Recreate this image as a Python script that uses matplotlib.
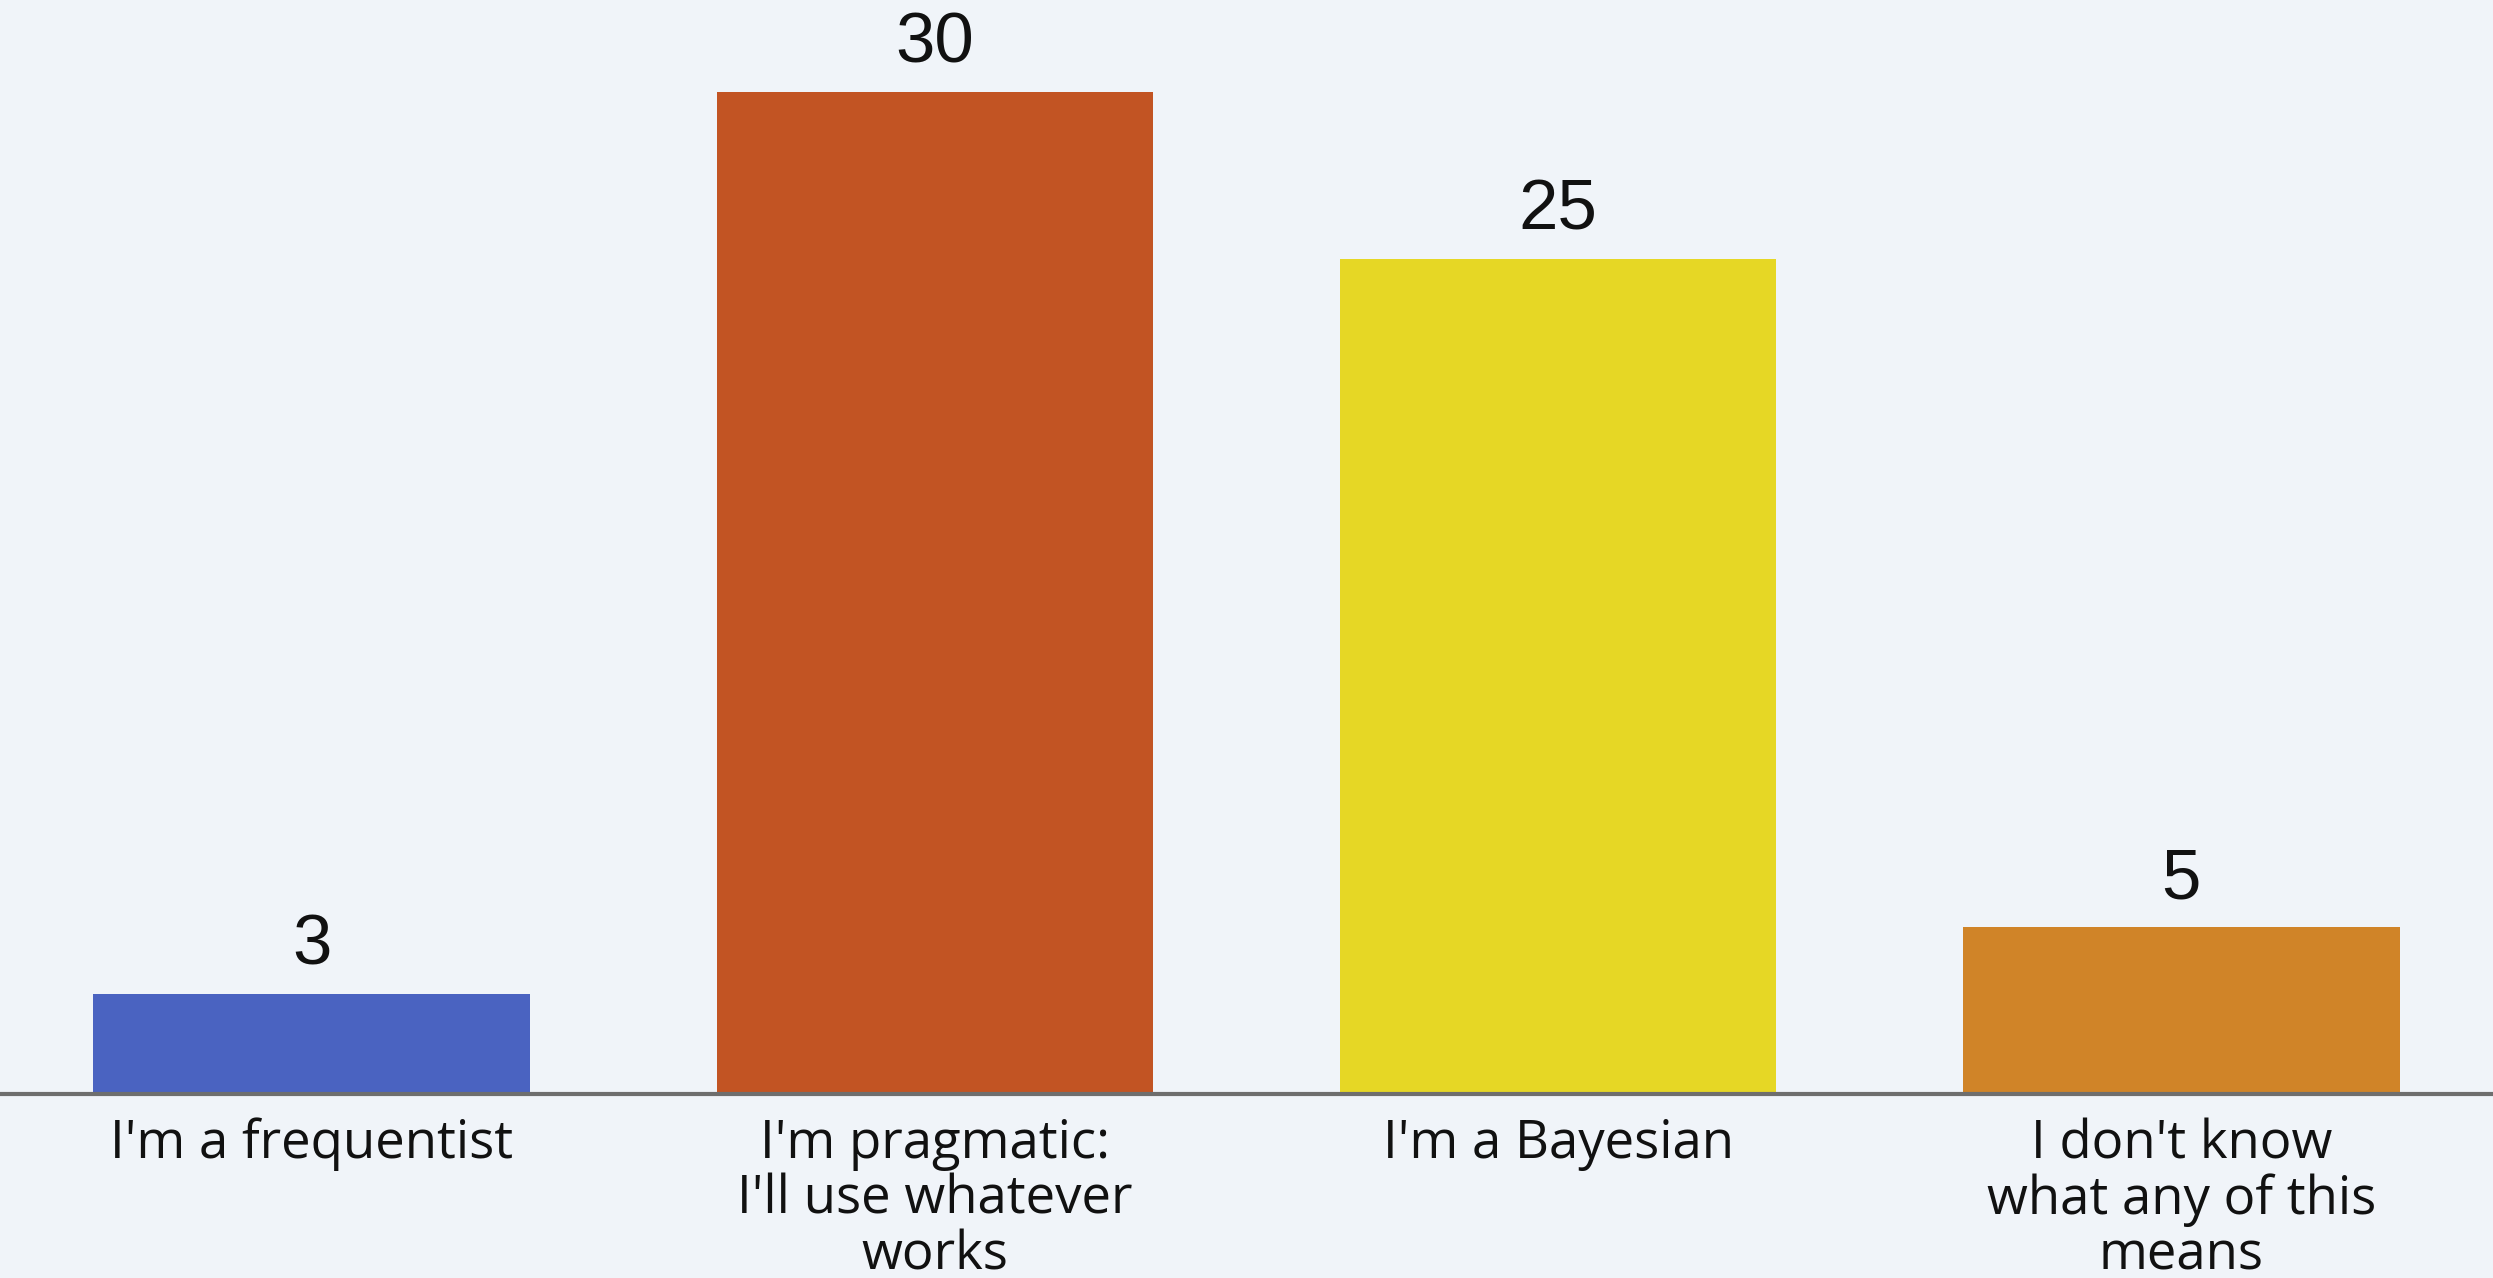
import numpy as np
import matplotlib.pyplot as plt

plt.rcParams['font.family'] = ['Open Sans', 'DejaVu Sans']

categories = ["I'm a frequentist", "I'm pragmatic:\nI'll use whatever\nworks",
              "I'm a Bayesian", "I don't know\nwhat any of this\nmeans"]
counts = [3, 30, 25, 5]
colors = ['#4A63C1', '#C25423', '#E6D725', '#D08428']
bg = '#F0F4F9'

fig = plt.figure(figsize=(24.93, 12.78), dpi=100, facecolor=bg)
ax = fig.add_axes([0, 0.144, 1, 0.856])
ax.set_facecolor(bg)

x = np.arange(len(counts))
bars = ax.bar(x, counts, width=0.7, color=colors, zorder=2)
ax.set_xlim(-0.5, 3.5)
ax.set_ylim(0, 32.75)

# value labels above bars
for b, v in zip(bars, counts):
    ax.annotate(str(v), (b.get_x() + b.get_width() / 2, v), xytext=(0, 10),
                textcoords='offset points', ha='center', va='bottom',
                fontsize=51, color='#111111', family=['Liberation Sans', 'DejaVu Sans'])

ax.set_xticks(x)
ax.set_xticklabels(categories, fontsize=38, color='#111111', linespacing=1.05, va='top')
ax.tick_params(axis='x', length=0, pad=17)
ax.set_yticks([])
for s in ['top', 'right', 'left']:
    ax.spines[s].set_visible(False)
ax.spines['bottom'].set_color('#6E6E6E')
ax.spines['bottom'].set_linewidth(3)
ax.spines['bottom'].set_zorder(3)

fig.savefig('out.png', dpi=100, facecolor=bg)
